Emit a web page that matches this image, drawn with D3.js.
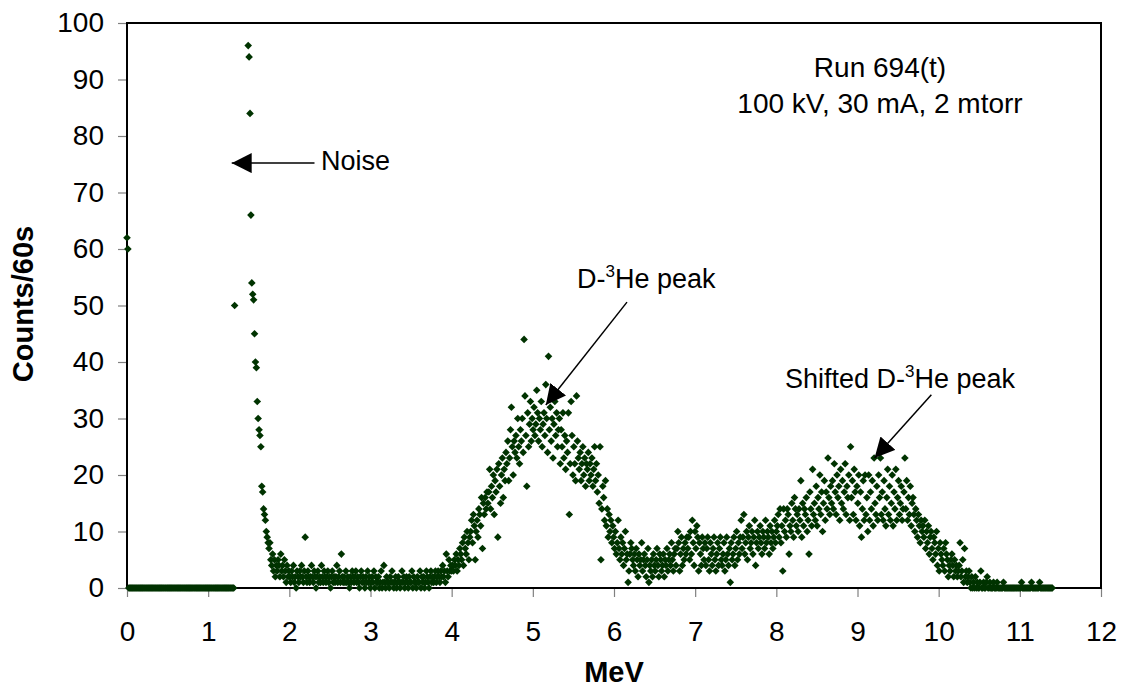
<!DOCTYPE html>
<html><head><meta charset="utf-8">
<script src="https://cdn.jsdelivr.net/npm/d3@7"></script>
<style>body{margin:0;background:#fff} text{font-family:Arial,"Liberation Sans",sans-serif}</style>
</head><body><svg id="c" width="1121" height="696"></svg>
<script>
// counts per MCA channel (1024 channels)
const counts = [
62,60,0,0,0,0,0,0,0,0, 0,0,0,0,0,0,0,0,0,0,
0,0,0,0,0,0,0,0,0,0, 0,0,0,0,0,0,0,0,0,0,
0,0,0,0,0,0,0,0,0,0, 0,0,0,0,0,0,0,0,0,0,
0,0,0,0,0,0,0,0,0,0, 0,0,0,0,0,0,0,0,0,0,
0,0,0,0,0,0,0,0,0,0, 0,0,0,0,0,0,0,0,0,0,
0,0,0,0,0,0,0,0,0,0, 0,0,0,0,0,0,0,0,0,50,
128,165,210,262,318,356,372,349,301,246, 198,160,131,110,96,94,84,66,54,52,
51,45,40,39,33,30,28,27,25,18, 17,14,13,12,10,9,8,7,8,5,
4,6,3,5,2,4,3,5,4,2, 6,3,4,2,5,3,1,4,2,3,
2,1,3,2,4,1,2,0,3,2, 1,3,2,4,2,1,3,9,2,1,
3,2,1,2,4,2,1,3,2,0, 2,3,1,2,1,4,2,1,3,2,
1,2,3,1,2,0,2,3,1,2, 1,2,4,1,2,3,1,6,2,1,
2,1,3,1,2,1,0,2,1,3, 2,1,2,3,1,2,1,0,2,3,
1,2,1,0,2,1,3,1,2,0, 1,2,1,3,0,2,1,1,2,0,
1,3,0,1,4,1,0,2,1,1, 0,2,1,3,1,0,1,2,0,1,
2,1,0,1,3,1,2,0,1,2, 1,0,2,1,1,3,0,2,1,1,
0,2,1,1,3,0,2,1,2,0, 1,3,2,1,0,2,3,1,2,1,
2,3,1,2,3,2,1,3,2,4, 2,3,1,6,3,2,5,3,4,3,
4,3,5,4,6,3,5,4,7,6, 5,8,4,9,7,6,10,8,5,9,
10,12,8,13,11,5,10,12,9,14, 13,11,16,7,15,13,16,14,17,15,
17,21,14,18,16,20,13,19,17,21, 9,22,18,15,20,23,16,21,19,24,
22,26,19,23,28,32,25,20,26,24, 27,23,30,25,22,28,26,30,24,44,
34,27,18,31,25,29,33,26,30,28, 32,27,29,35,31,26,30,28,33,25,
29,31,27,36,30,24,41,28,32,26, 30,23,29,33,27,31,25,28,30,22,
28,25,31,23,27,21,26,24,31,13, 22,33,27,20,25,22,19,34,26,23,
21,24,19,22,25,20,23,18,22,21, 24,19,22,20,23,18,21,25,19,22,
17,20,15,25,5,14,18,16,12,19, 11,14,9,13,10,12,8,11,9,7,
10,6,8,12,7,5,9,6,8,4, 7,10,5,6,1,3,6,8,7,5,
4,6,3,7,5,2,6,4,5,8, 3,5,6,4,2,5,7,1,4,3,
5,2,6,4,3,5,7,4,2,6, 5,3,4,6,2,5,4,7,3,5,
6,4,8,5,3,6,7,4,7,10, 8,3,6,9,4,7,5,8,6,9,
7,9,5,10,6,12,8,4,10,7, 11,9,3,8,6,4,9,7,5,8,
4,7,9,5,3,8,6,4,7,9, 5,3,6,8,4,7,9,5,4,6,
8,3,5,9,6,4,7,1,8,5, 6,9,4,7,10,5,8,6,9,12,
7,9,13,6,8,10,5,9,11,7, 8,10,6,9,12,4,8,10,7,9,
11,8,6,10,9,7,12,8,10,9, 6,11,8,10,7,9,12,8,10,11,
13,9,14,8,11,3,14,10,12,9, 14,13,6,11,10,15,12,9,16,14,
11,13,10,14,12,19,9,15,11,14, 13,16,10,12,6,17,14,11,21,13,
15,12,18,11,16,14,20,13,17,10, 15,19,12,17,14,23,16,13,18,15,
19,14,22,17,13,20,16,18,12,21, 15,19,14,17,22,13,18,16,20,12,
25,16,19,13,21,17,12,18,15,20, 11,17,9,14,19,12,20,13,16,10,
20,12,17,14,19,11,23,15,13,18, 12,20,16,23,13,17,12,19,14,11,
16,21,13,18,12,15,20,11,17,14, 21,12,16,19,13,15,18,12,14,17,
23,14,19,12,16,13,18,11,15,16, 13,10,14,12,9,13,11,8,12,10,
11,9,12,7,10,8,11,6,9,10, 7,5,9,8,6,10,4,7,3,8,
6,5,4,7,3,8,6,5,2,4, 3,5,6,4,2,5,3,4,2,3,
4,8,2,3,5,1,7,2,3,1, 2,3,1,0,2,0,1,0,2,0,
1,0,0,1,3,0,0,1,0,0, 1,2,0,0,1,0,0,0,1,0,
0,0,1,0,0,0,0,0,0,1, 0,0,0,0,0,0,0,0,0,0,
0,0,0,0,0,0,0,0,0,1, 0,0,0,0,0,0,0,0,0,0,
1,0,0,0,0,0,0,0,0,1, 0,0,0,0,0,0,0,0,0,0,
0,0,0,0
];
const mevPerChannel = 11.4 / 1023;   // energy calibration of the MCA
const xTicks = [0,1,2,3,4,5,6,7,8,9,10,11,12];
const yTicks = [0,10,20,30,40,50,60,70,80,90,100];
const xTitle = "MeV";
const yTitle = "Counts/60s";
const runInfo = ["Run 694(t)", "100 kV, 30 mA, 2 mtorr"];

const svg = d3.select("#c");
const L = 127, R = 1101, T = 23, B = 588;
const x = d3.scaleLinear().domain([0, 12]).range([L, R]);
const y = d3.scaleLinear().domain([0, 100]).range([B, T]);
const FS = 28, FA = 27, FT = 29;

// axes
const ya = svg.append("g").attr("transform", `translate(${L},0)`)
  .call(d3.axisLeft(y).tickValues(yTicks).tickSize(9).tickSizeOuter(0).tickPadding(14));
const xa = svg.append("g").attr("transform", `translate(0,${B})`)
  .call(d3.axisBottom(x).tickValues(xTicks).tickSize(9).tickSizeOuter(0).tickPadding(24));
[ya, xa].forEach(g => {
  g.select(".domain").remove();
  g.selectAll(".tick line").attr("stroke", "#808080").attr("stroke-width", 1.2);
  g.selectAll(".tick text").attr("fill", "#000").style("font-size", FS + "px")
    .style("font-family", "Arial, 'Liberation Sans', sans-serif");
});

// frame
svg.append("rect").attr("x", L).attr("y", T).attr("width", R - L).attr("height", B - T)
  .attr("fill", "none").attr("stroke", "#000").attr("stroke-width", 2);

// points
const pts = counts.map((c, i) => ({e: i * mevPerChannel, c})).filter(d => d.c <= 100);
const r = 3.8;
svg.append("g").selectAll("path").data(pts).join("path")
  .attr("d", `M0,${-r}L${r},0L0,${r}L${-r},0Z`)
  .attr("transform", d => `translate(${x(d.e)},${y(d.c)})`)
  .attr("fill", "#003300");

// titles
svg.append("text").attr("x", (L + R) / 2).attr("y", 682).attr("text-anchor", "middle")
  .style("font-size", FT + "px").style("font-weight", "bold").text(xTitle);
svg.append("text").attr("transform", "translate(33,304) rotate(-90)").attr("text-anchor", "middle")
  .style("font-size", FT + "px").style("font-weight", "bold").text(yTitle);

// run info
runInfo.forEach((t, i) => svg.append("text").attr("x", 880).attr("y", 77 + i * 36)
  .attr("text-anchor", "middle").style("font-size", FS + "px").text(t));

// arrows
const defs = svg.append("defs");
defs.append("marker").attr("id", "ah").attr("viewBox", "0 0 20 20").attr("refX", 20).attr("refY", 10)
  .attr("markerWidth", 20).attr("markerHeight", 20).attr("markerUnits", "userSpaceOnUse")
  .attr("orient", "auto").append("path").attr("d", "M0,0L20,10L0,20Z").attr("fill", "#000");
function arrow(x1, y1, x2, y2) {
  svg.append("line").attr("x1", x(x1)).attr("y1", y(y1)).attr("x2", x(x2)).attr("y2", y(y2))
    .attr("stroke", "#000").attr("stroke-width", 1.5).attr("marker-end", "url(#ah)");
}
arrow(2.31, 75.2, 1.29, 75.2);
arrow(6.16, 50.6, 5.16, 32.4);
arrow(9.91, 34.2, 9.21, 23.0);

// annotation labels
svg.append("text").attr("x", 321).attr("y", 170).style("font-size", FA + "px").text("Noise");
function heLabel(px, py, pre) {
  const t = svg.append("text").attr("x", px).attr("y", py).style("font-size", FA + "px");
  t.append("tspan").text(pre + "D-");
  t.append("tspan").attr("dy", -11).style("font-size", "17px").text("3");
  t.append("tspan").attr("dy", 11).text("He peak");
}
heLabel(577, 288, "");
heLabel(785, 388, "Shifted ");
</script></body></html>
